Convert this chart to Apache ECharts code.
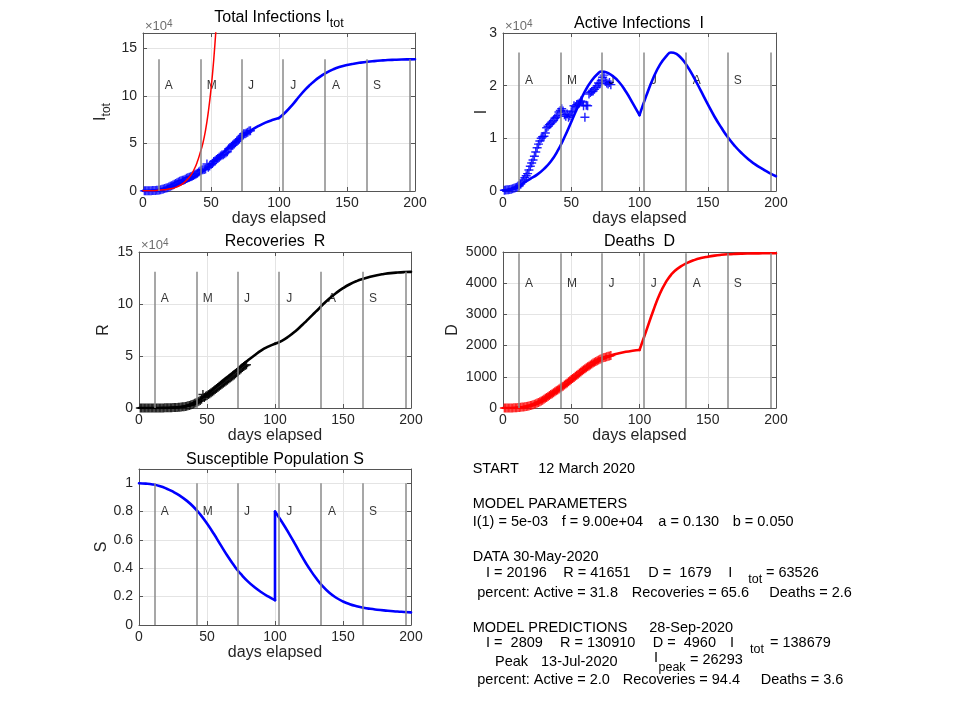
<!DOCTYPE html>
<html>
<head>
<meta charset="utf-8">
<style>

html, body {
	margin: 0;
	padding: 0;
	background: #fff;
}

#chartElem {
	width: 960px;
	height: 720px;
}

</style>
</head>
<body>

<div id="chartElem"></div>

<script src="https://cdn.jsdelivr.net/npm/echarts@6.0.0/dist/echarts.min.js"></script>

<script>

// model curves, sampled on these days
let modelDays = [0, 5, 10, 15, 20, 25, 30, 35, 40, 45, 50, 55, 60, 65, 70, 72, 75, 80, 85, 90, 95, 100,
	105, 110, 115, 120, 123, 125, 130, 135, 140, 145, 150, 155, 160, 165, 170, 175, 180, 185, 190, 195, 200];

let itotModel = [100, 300, 800, 1800, 3500, 5800, 8700, 12200, 16500, 21800, 28000, 34800, 41700, 48200, 54200, 56400, 59500, 64300, 68500, 72000, 74700, 76800,
	83200, 91000, 99800, 107800, 112000, 114600, 120200, 124700, 128200, 130800, 132700, 134100, 135200, 136100, 136800, 137400, 137900, 138200, 138450, 138600, 138679];

let activeModel = [100, 250, 700, 1500, 2300, 3100, 4200, 5600, 7600, 10200, 13100, 16100, 18900, 21000, 22400, 22700, 22600, 21900, 20700, 18900, 16700, 14400,
	18100, 21400, 24000, 25700, 26293, 26250, 25400, 23700, 21500, 19000, 16500, 14100, 12000, 10100, 8500, 7150, 6000, 5000, 4200, 3450, 2809];

let recModel = [0, 0, 20, 60, 150, 380, 900, 2000, 4600, 8400, 13000, 18700, 24400, 29800, 35000, 37000, 40200, 45700, 50800, 55500, 59000, 61800,
	64600, 68700, 73800, 79800, 83600, 86200, 92600, 99200, 105300, 110600, 115200, 119000, 122000, 124300, 126200, 127700, 128800, 129700, 130300, 130700, 130910];

let deathModel = [0, 0, 5, 20, 60, 150, 270, 410, 560, 715, 875, 1045, 1215, 1372, 1505, 1552, 1615, 1700, 1757, 1802, 1835, 1860,
	2480, 3110, 3670, 4080, 4260, 4360, 4530, 4650, 4740, 4805, 4850, 4885, 4910, 4928, 4940, 4948, 4953, 4956, 4958, 4959, 4960];

// susceptible fraction: before the day-100 reset, and after it
let sBefore = [1.0, 0.997, 0.991, 0.98, 0.963, 0.94, 0.912, 0.877, 0.834, 0.78, 0.715, 0.643, 0.565, 0.488, 0.418, 0.392, 0.358, 0.308, 0.266, 0.231, 0.201, 0.175];
let sAfter = [0.80, 0.728, 0.65, 0.566, 0.48, 0.432, 0.402, 0.333, 0.274, 0.227, 0.192, 0.166, 0.147, 0.133, 0.122, 0.114, 0.108, 0.103, 0.099, 0.095, 0.092, 0.089];

// unchecked exponential growth (red, total infections plot)
let expDays = [0, 5, 10, 15, 20, 25, 30, 35, 38, 40, 42, 44, 46, 48, 50, 52, 54];
let expModel = [170, 320, 620, 1200, 2300, 4400, 8500, 16300, 24000, 31000, 40000, 50000, 64000, 83000, 107000, 138000, 178000];

// daily data, days 1 .. 79
let itotData = [150, 180, 220, 260, 301, 352, 423, 505, 608, 722, 886, 1050, 1365, 1780, 2196,
	2622, 3050, 3478, 4217, 4958, 5610, 6265, 7020, 7890, 8760, 9540, 10220, 10825, 11250, 11480,
	12260, 13440, 13970, 14550, 15030, 15660, 16390, 17220, 17950, 18780, 20110, 21040, 22070, 22400, 22535,
	23240, 28405, 25040, 26375, 27910, 29045, 30980, 31715, 33150, 34285, 35520, 36955, 37890, 38225, 39200,
	40390, 41320, 44550, 45880, 47100, 48240, 49565, 50890, 52315, 53840, 54960, 56780, 58600, 60215, 60230,
	61045, 61755, 63068, 63526];

let activeData = [150, 180, 220, 260, 300, 350, 420, 500, 600, 700, 850, 1000, 1300, 1700, 2100,
	2500, 2900, 3300, 4000, 4700, 5300, 5900, 6600, 7400, 8200, 8900, 9500, 10000, 10300, 10400,
	11000, 12000, 12300, 12600, 12800, 13100, 13400, 13800, 14000, 14300, 15000, 15300, 15600, 15200, 14500,
	14200, 14600, 14000, 14300, 15000, 15200, 16200, 16000, 16400, 16500, 16700, 17100, 16900, 16200, 14000,
	16300, 16200, 18400, 18700, 18900, 19000, 19300, 19600, 20000, 20500, 20400, 21000, 21600, 22000, 20800,
	20500, 20300, 20600, 20196];

let recData = [0, 0, 0, 0, 0, 0, 0, 0, 0, 10, 20, 30, 40, 50, 60,
	80, 100, 120, 150, 180, 220, 260, 300, 350, 400, 460, 520, 600, 700, 800,
	950, 1100, 1300, 1550, 1800, 2100, 2500, 2900, 3400, 3900, 4500, 5100, 5800, 6500, 7300,
	8300, 13000, 10200, 11200, 12000, 12900, 13800, 14700, 15700, 16700, 17700, 18700, 19800, 20800, 21800,
	22800, 23800, 24800, 25800, 26800, 27800, 28800, 29800, 30800, 31800, 33000, 34200, 35400, 36600, 37800,
	38900, 39800, 40800, 41651];

let deathData = [0, 0, 0, 0, 1, 2, 3, 5, 8, 12, 16, 20, 25, 30, 36,
	42, 50, 58, 67, 78, 90, 105, 120, 140, 160, 180, 200, 225, 250, 280,
	310, 340, 370, 400, 430, 460, 490, 520, 550, 580, 610, 640, 670, 700, 735,
	770, 805, 840, 875, 910, 945, 980, 1015, 1050, 1085, 1120, 1155, 1190, 1225, 1260,
	1290, 1320, 1350, 1380, 1410, 1440, 1465, 1490, 1515, 1540, 1560, 1580, 1600, 1615, 1630,
	1645, 1655, 1668, 1679];

// month markers
let monthLineDays = [11.5, 42.3, 72.4, 103, 134, 164.8, 196];
let monthNames = ["A", "M", "J", "J", "A", "S"];
let monthLabelDays = [19, 50.5, 79.5, 110.5, 142, 172];

// per plot: Itot, I, R, D, S
let monthLineTops = [138679, 26293, 130910, 4960, 1];
let monthLabelHeights = [111000, 21000, 104700, 3970, 0.8];
let yMaxes = [166400, 30000, 150000, 5000, 1.1];
let yIntervals = [50000, 10000, 50000, 1000, 0.2];


const FONT = '"Liberation Sans", Arial, Helvetica, sans-serif';
const INK = "#262626";
const AXIS_COLOR = "#555555";
const GRID_COLOR = "#e4e4e4";
const MONTH_COLOR = "#8a8a8a";
const PLUS = "path://M4.2,0H5.8V4.2H10V5.8H5.8V10H4.2V5.8H0V4.2H4.2Z";

let panels = [
	{box: [143, 33, 272, 158], sci: true, yName: "I{sub|tot}", yNameGap: 30, title: "Total Infections I{sub|tot}", titleAt: [279, 18]},
	{box: [503, 33, 273, 158], sci: true, yName: "I", yNameGap: 13, title: "Active Infections  I", titleAt: [639, 24]},
	{box: [139, 252, 272, 156], sci: true, yName: "R", yNameGap: 27, title: "Recoveries  R", titleAt: [275, 242]},
	{box: [503, 252, 273, 156], sci: false, yName: "D", yNameGap: 42, title: "Deaths  D", titleAt: [639.5, 242]},
	{box: [139, 469, 272, 156], sci: false, yName: "S", yNameGap: 29, title: "Susceptible Population S", titleAt: [275, 459.5]}
];


let chart = echarts.init(document.getElementById("chartElem"));

chart.setOption(generateChartData());


function pairs(xs, ys) {
	return ys.map((y, i) => [xs[i], y]);
}

function generateChartData() {
	let dataDays = itotData.map((v, i) => i + 1),
		split = modelDays.indexOf(100),
		daysBefore = modelDays.slice(0, split + 1),
		daysAfter = modelDays.slice(split),
		grids = [],
		xAxes = [],
		yAxes = [],
		series = [],
		graphics = [];
	
	let tickStyle = {inside: true, length: 4, lineStyle: {color: AXIS_COLOR}},
		lineAxis = {onZero: false, lineStyle: {color: AXIS_COLOR, width: 1}};
	
	panels.forEach((p, i) => {
		let step = yIntervals[i],
			scale = p.sci ? 1e4 : 1;
		
		grids.push({
			left: p.box[0], top: p.box[1], width: p.box[2], height: p.box[3],
			containLabel: false, outerBoundsMode: "none"
		});
		
		xAxes.push({
			gridIndex: i, type: "value", min: 0, max: 200, interval: 50,
			name: "days elapsed", nameLocation: "middle", nameGap: 20, nameMoveOverlap: false,
			nameTextStyle: {fontFamily: FONT, fontSize: 16, color: INK},
			axisLine: lineAxis, axisTick: tickStyle,
			axisLabel: {margin: 5, fontFamily: FONT, fontSize: 14, color: INK},
			splitLine: {show: true, lineStyle: {color: GRID_COLOR, width: 1}}
		});
		xAxes.push({
			gridIndex: i, type: "value", position: "top", min: 0, max: 200, interval: 50,
			name: p.sci ? "×10{sup|4}" : "", nameLocation: "start", nameGap: -2, nameMoveOverlap: false,
			nameTextStyle: {
				fontFamily: FONT, fontSize: 13, color: "#6e6e6e", align: "left", verticalAlign: "bottom", lineHeight: 14,
				rich: {sup: {fontFamily: FONT, fontSize: 10, color: "#6e6e6e", lineHeight: 8, verticalAlign: "top"}}
			},
			axisLine: lineAxis, axisTick: tickStyle, axisLabel: {show: false}, splitLine: {show: false}
		});
		
		yAxes.push({
			gridIndex: i, type: "value", min: 0, max: yMaxes[i], interval: step,
			name: p.yName, nameLocation: "middle", nameGap: p.yNameGap, nameRotate: 90, nameMoveOverlap: false,
			nameTextStyle: {
				fontFamily: FONT, fontSize: 16, color: INK, lineHeight: p.yName.includes("{") ? 24 : 16,
				rich: {sub: {fontFamily: FONT, fontSize: 12, color: INK, lineHeight: 10, verticalAlign: "bottom"}}
			},
			axisLine: lineAxis, axisTick: tickStyle,
			axisLabel: {
				margin: 6, fontFamily: FONT, fontSize: 14, color: INK,
				formatter: v => Math.abs(v / step - Math.round(v / step)) < 1e-6 ? String(+(v / scale).toFixed(2)) : ""
			},
			splitLine: {show: true, lineStyle: {color: GRID_COLOR, width: 1}}
		});
		yAxes.push({
			gridIndex: i, type: "value", position: "right", min: 0, max: yMaxes[i], interval: step,
			axisLine: lineAxis, axisTick: tickStyle, axisLabel: {show: false}, splitLine: {show: false}
		});
		
		// month boundaries and initials
		series.push({
			type: "scatter", xAxisIndex: 2 * i, yAxisIndex: 2 * i, silent: true,
			symbolSize: 1, itemStyle: {color: "rgba(0,0,0,0)"},
			data: monthNames.map((m, k) => [monthLabelDays[k], monthLabelHeights[i], m]),
			label: {show: true, position: "inside", formatter: q => q.data[2], fontFamily: FONT, fontSize: 12, color: "#000"},
			markLine: {
				silent: true, symbol: ["none", "none"], label: {show: false},
				lineStyle: {color: MONTH_COLOR, width: 1.5, type: "solid"},
				data: monthLineDays.map(d => [{coord: [d, 0]}, {coord: [d, monthLineTops[i]]}])
			}
		});
		
		graphics.push({
			type: "text", z: 100,
			style: {
				text: p.title, x: p.titleAt[0], y: p.titleAt[1], align: "center", verticalAlign: "middle",
				font: "16px " + FONT, fill: "#000", lineHeight: p.title.includes("{") ? 24 : 18,
				rich: {sub: {font: "12.5px " + FONT, fill: "#000", lineHeight: 12, verticalAlign: "bottom"}}
			}
		});
	});
	
	function markers(i, values, color) {
		series.push({
			type: "scatter", xAxisIndex: 2 * i, yAxisIndex: 2 * i, silent: true,
			symbol: PLUS, symbolSize: 9, itemStyle: {color: color, opacity: 0.85},
			data: pairs(dataDays, values)
		});
	}
	
	function curve(i, data, color, width, smooth) {
		series.push({
			type: "line", xAxisIndex: 2 * i, yAxisIndex: 2 * i, silent: true,
			showSymbol: false, smooth: smooth === undefined ? 0.5 : smooth, clip: true,
			lineStyle: {color: color, width: width, cap: "round", join: "round"},
			data: data
		});
	}
	
	function splitCurve(i, values, color) {
		curve(i, pairs(daysBefore, values.slice(0, split + 1)), color, 2.6);
		curve(i, pairs(daysAfter, values.slice(split)), color, 2.6);
	}
	
	markers(0, itotData, "#0000ff");
	splitCurve(0, itotModel, "#0000ff");
	curve(0, pairs(expDays, expModel), "#ff0000", 1.5);
	
	markers(1, activeData, "#0000ff");
	splitCurve(1, activeModel, "#0000ff");
	
	markers(2, recData, "#000000");
	splitCurve(2, recModel, "#000000");
	
	markers(3, deathData, "#ff0000");
	splitCurve(3, deathModel, "#ff0000");
	
	curve(4, pairs(daysBefore, sBefore), "#0000ff", 2.6);
	curve(4, [[100, sBefore[sBefore.length - 1]], [100, sAfter[0]]], "#0000ff", 2.6, false);
	curve(4, pairs(daysAfter, sAfter), "#0000ff", 2.6);
	
	// summary text block
	let texts = [
		["START", 472.7, 469.3], ["12 March 2020", 538.3, 469.3],
		["MODEL PARAMETERS", 472.7, 504],
		["I(1) = 5e-03", 472.7, 521.7], ["f = 9.00e+04", 561.7, 521.7], ["a = 0.130", 658.3, 521.7], ["b = 0.050", 732.7, 521.7],
		["DATA 30-May-2020", 472.7, 557.3],
		["I = 20196", 486, 572.7], ["R = 41651", 563.3, 572.7], ["D =  1679", 648.3, 572.7], ["I", 728.3, 572.7], ["tot", 748.3, 579.3, 12.5], ["= 63526", 766, 572.7],
		["percent: Active = 31.8", 477.3, 592.7], ["Recoveries = 65.6", 631.7, 592.7], ["Deaths = 2.6", 769.3, 592.7],
		["MODEL PREDICTIONS", 472.7, 627.7], ["28-Sep-2020", 649.3, 627.7],
		["I =  2809", 486, 642.7], ["R = 130910", 560, 642.7], ["D =  4960", 652.7, 642.7], ["I", 730, 642.7], ["tot", 750, 650, 12.5], ["= 138679", 770, 642.7],
		["Peak", 495, 662.3], ["13-Jul-2020", 541, 662.3], ["I", 654, 658], ["peak", 658.5, 667.5, 12.5], ["= 26293", 690, 660],
		["percent: Active = 2.0", 477.3, 680], ["Recoveries = 94.4", 622.7, 680], ["Deaths = 3.6", 760.7, 680]
	];
	
	texts.forEach(([text, x, y, size]) => {
		graphics.push({
			type: "text", z: 100,
			style: {text: text, x: x, y: y, align: "left", verticalAlign: "middle", font: (size || 14.5) + "px " + FONT, fill: "#000"}
		});
	});
	
	return {
		animation: false,
		backgroundColor: "#ffffff",
		grid: grids,
		xAxis: xAxes,
		yAxis: yAxes,
		series: series,
		graphic: graphics
	};
}

</script>

</body>
</html>
